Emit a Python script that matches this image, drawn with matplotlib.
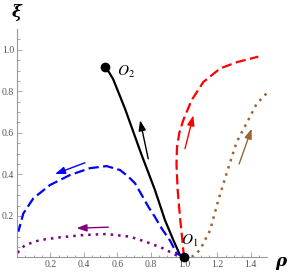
import matplotlib.pyplot as plt
import numpy as np

plt.rcParams['mathtext.fontset'] = 'stix'

# curve points (rho, xi)
black_x = [0.527, 0.55, 0.575, 0.605, 0.647, 0.696, 0.746, 0.786, 0.826, 0.886, 0.936, 0.976, 1.0]
black_y = [0.918, 0.893, 0.86, 0.8, 0.716, 0.606, 0.494, 0.41, 0.325, 0.18, 0.084, 0.012, 0.0]

red_x = [1.0, 0.99, 0.976, 0.962, 0.955, 0.958, 0.972, 0.996, 1.046, 1.116, 1.216, 1.315, 1.445]
red_y = [0.0, 0.084, 0.194, 0.325, 0.45, 0.53, 0.60, 0.662, 0.758, 0.845, 0.91, 0.94, 0.967]

brown_x = [1.0, 1.05, 1.096, 1.126, 1.156, 1.2, 1.255, 1.315, 1.385, 1.435, 1.5]
brown_y = [0.0, 0.005, 0.036, 0.084, 0.13, 0.26, 0.405, 0.555, 0.662, 0.74, 0.795]

blue_x = [1.0, 0.956, 0.916, 0.866, 0.826, 0.786, 0.737, 0.707, 0.667, 0.617, 0.537,
          0.437, 0.317, 0.198, 0.098, 0.038, 0.008]
blue_y = [0.0, 0.02, 0.082, 0.14, 0.195, 0.245, 0.315, 0.357, 0.389, 0.421, 0.44,
          0.43, 0.397, 0.349, 0.285, 0.212, 0.124]

purple_x = [1.0, 0.956, 0.877, 0.777, 0.677, 0.537, 0.397, 0.257, 0.138, 0.048, 0.0]
purple_y = [0.0, 0.01, 0.043, 0.074, 0.1, 0.113, 0.108, 0.097, 0.084, 0.06, 0.02]

# arrows: (start, end)
arrows = {
    'black': ((0.786, 0.475), (0.737, 0.66)),
    'red': ((1.006, 0.524), (1.056, 0.684)),
    'brown': ((1.33, 0.45), (1.405, 0.62)),
    'blue': ((0.407, 0.456), (0.228, 0.402)),
    'purple': ((0.547, 0.146), (0.357, 0.141)),
}

colors = {
    'black': 'black',
    'red': '#ff0000',
    'brown': '#996633',
    'blue': '#0000ff',
    'purple': '#800080',
}

fig = plt.figure(figsize=(2.89, 2.80), dpi=100)
ax = fig.add_axes([0.0588, 0.0804, 0.8668, 0.816])

ax.plot(black_x, black_y, color=colors['black'], lw=1.6, solid_capstyle='butt')
ax.plot(red_x, red_y, color=colors['red'], lw=1.6, dashes=(4.6, 2.0), dash_capstyle='butt')
ax.plot(blue_x, blue_y, color=colors['blue'], lw=1.6, dashes=(4.6, 2.0), dash_capstyle='butt')
ax.plot(brown_x, brown_y, color=colors['brown'], lw=1.8, dashes=(1, 2.0), dash_capstyle='butt',
        clip_on=False)
ax.plot(purple_x, purple_y, color=colors['purple'], lw=1.8, dashes=(1, 2.0), dash_capstyle='butt',
        clip_on=False)

for name, (p0, p1) in arrows.items():
    ax.annotate('', xy=p1, xytext=p0,
                arrowprops=dict(arrowstyle='-|>,head_length=0.6,head_width=0.22',
                                color=colors[name], lw=1.0,
                                mutation_scale=10, shrinkA=0, shrinkB=0))

# fixed points
ax.plot([1.0, 0.527], [0.0, 0.918], 'o', color='black', ms=6, clip_on=False, zorder=5)
ax.text(0.653, 0.892, '$O_2$', fontsize=11, ha='center', va='center')
ax.text(1.036, 0.078, '$O_1$', fontsize=11, ha='center', va='center')

ax.set_xlim(0, 1.5)
ax.set_ylim(0, 1.1)
for s in ['top', 'right']:
    ax.spines[s].set_visible(False)
for s in ['left', 'bottom']:
    ax.spines[s].set_color('#999999')
    ax.spines[s].set_linewidth(0.8)

ax.set_xticks([0.2, 0.4, 0.6, 0.8, 1.0, 1.2, 1.4])
ax.set_xticklabels(['0.2', '0.4', '0.6', '0.8', '1.0', '1.2', '1.4'])
ax.set_yticks([0.2, 0.4, 0.6, 0.8, 1.0])
ax.set_yticklabels(['0.2', '0.4', '0.6', '0.8', '1.0'])
ax.set_xticks(np.arange(0.05, 1.5, 0.05), minor=True)
ax.set_yticks(np.arange(0.05, 1.1, 0.05), minor=True)
ax.tick_params(which='both', direction='in', color='#999999', width=0.6)
ax.tick_params(which='major', length=3.5, labelsize=7, labelcolor='#555555', pad=2)
ax.tick_params(which='minor', length=1.8)
for lab in ax.get_xticklabels() + ax.get_yticklabels():
    lab.set_family('Liberation Serif')

ax.text(0.0, 1.18, 'ξ', fontsize=12, fontfamily='DejaVu Serif', fontweight='bold',
        fontstyle='italic', ha='center', va='center', clip_on=False)
ax.text(1.58, -0.02, 'ρ', fontsize=12, fontfamily='DejaVu Serif', fontweight='bold',
        fontstyle='italic', ha='center', va='center', clip_on=False)

fig.savefig('out.png', dpi=100)
